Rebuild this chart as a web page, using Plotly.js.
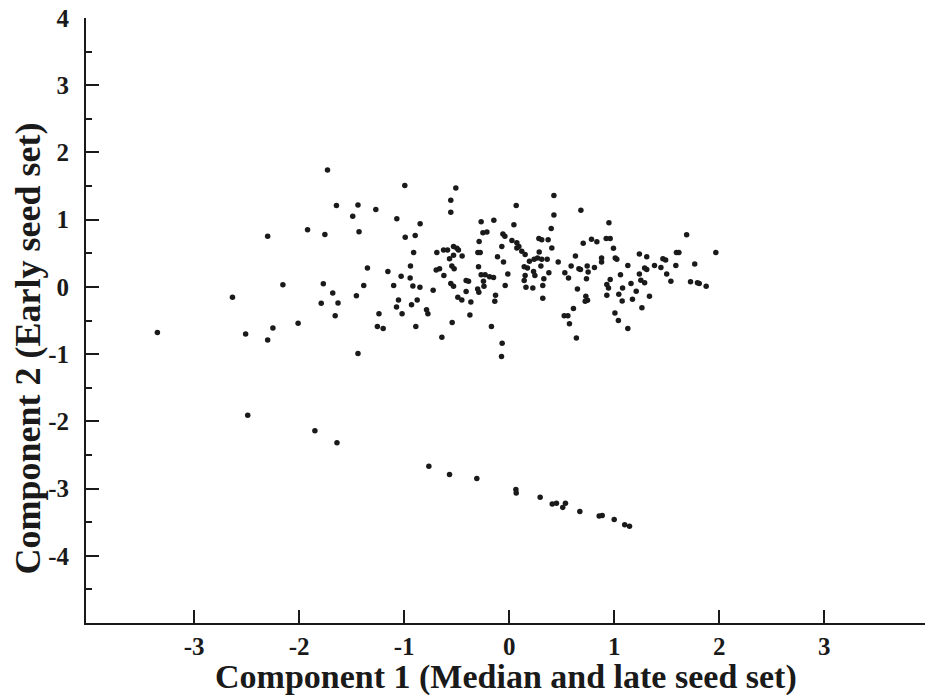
<!DOCTYPE html>
<html>
<head>
<meta charset="utf-8">
<script src="https://cdn.plot.ly/plotly-3.0.1.min.js"></script>
<style>html,body{margin:0;padding:0;background:#fff;}#chart{width:925px;height:697px;}</style>
</head>
<body>
<div id="chart"></div>
<script>
// Main cluster of genotypes: Component 1 (x) and Component 2 (y) scores
const clusterX = [-1.73,-1.645,-1.44,-1.27,-1.49,-2.30,-1.92,-1.755,-1.43,-1.35,-2.155,-1.77,-1.385,-2.635,-1.68,-1.455,-1.79,-1.63,-1.657,-1.24,-2.01,-2.25,-1.255,-1.20,-3.35,-2.51,-2.30,-1.44,-1.10,-0.917,-0.85,-1.054,-1.073,-0.93,-0.876,-1.02,-0.889,-0.787,-0.774,-0.994,-0.508,-0.556,-0.556,-1.07,-0.848,-0.99,-0.895,-0.91,-0.689,-0.625,-0.587,-0.53,-0.498,-0.483,-0.53,-0.568,-0.448,-0.267,-0.146,0.067,0.045,-0.25,-0.212,-0.286,-0.298,-0.276,-0.06,-0.041,-0.07,0.026,0.073,0.073,-0.111,-0.054,-0.94,-1.155,-1.029,-0.943,-0.724,-0.641,-0.543,-0.663,-0.695,-0.622,-0.546,-0.524,-0.556,-0.53,-0.41,-0.387,-0.41,-0.489,-0.451,-0.365,-0.374,-0.292,-0.267,-0.229,-0.187,-0.149,-0.245,-0.30,-0.289,-0.24,-0.13,-0.137,-0.169,-0.067,-0.073,-0.013,-0.038,0.092,0.12,0.152,0.143,0.174,0.152,0.143,0.16,0.225,0.193,0.238,0.27,0.31,0.232,0.245,0.286,0.283,0.31,0.371,0.302,0.33,0.32,0.32,0.378,0.362,0.426,0.426,0.40,0.406,0.467,0.53,0.565,0.524,0.559,0.574,0.64,0.612,0.631,0.59,0.664,0.679,0.65,0.683,0.705,0.784,0.835,0.743,0.752,0.736,0.812,0.88,0.88,0.73,0.746,0.724,0.95,0.924,0.962,0.993,1.01,1.025,0.962,0.93,0.946,0.93,1.007,1.04,1.044,1.06,1.13,1.24,1.31,1.29,1.31,1.384,1.445,1.464,1.49,1.593,1.616,1.587,1.69,1.767,1.968,1.50,1.54,1.727,1.793,1.81,1.876,1.08,1.16,1.24,1.254,1.29,1.21,1.076,1.174,1.336,1.264,1.13];
const clusterY = [1.74,1.21,1.22,1.15,1.05,0.755,0.85,0.78,0.82,0.28,0.03,0.045,0.02,-0.155,-0.09,-0.13,-0.245,-0.24,-0.43,-0.40,-0.54,-0.61,-0.59,-0.62,-0.68,-0.70,-0.79,-0.99,0.02,0.015,-0.005,-0.195,-0.30,-0.265,-0.195,-0.40,-0.59,-0.34,-0.40,1.51,1.47,1.29,1.11,1.015,0.94,0.74,0.765,0.51,0.51,0.55,0.55,0.60,0.576,0.55,0.47,0.42,0.46,0.97,0.99,1.21,0.925,0.805,0.815,0.676,0.51,0.51,0.785,0.755,0.60,0.69,0.657,0.58,0.45,0.37,0.31,0.23,0.16,0.134,-0.05,-0.75,-0.53,0.27,0.25,0.17,0.31,0.27,0.05,0.01,0.094,0.084,-0.07,-0.155,-0.195,-0.225,-0.42,0.30,0.18,0.18,0.15,0.14,0.084,-0.03,-0.08,0.01,-0.125,-0.215,-0.59,-0.84,-1.035,0.19,0.02,0.60,0.53,0.48,0.30,0.28,0.17,0.094,-0.005,-0.015,0.38,0.41,0.43,0.41,0.23,0.17,0.52,0.72,0.70,0.70,0.31,0.12,0.02,-0.17,0.21,0.41,1.36,1.07,0.87,0.58,0.37,0.21,0.134,-0.43,-0.43,-0.55,-0.76,-0.32,0.46,0.31,0.27,0.26,-0.03,1.14,0.65,0.71,0.67,0.31,0.22,0.12,0.29,0.43,0.37,-0.14,-0.20,-0.215,0.955,0.72,0.72,0.576,0.43,0.41,0.11,0.034,-0.015,-0.125,-0.39,-0.50,-0.11,0.18,0.32,0.49,0.45,0.28,0.26,0.32,0.29,0.42,0.40,0.51,0.51,0.32,0.775,0.34,0.51,0.19,0.084,0.075,0.06,0.05,0.01,-0.015,0.05,0.19,0.10,0.06,-0.065,-0.21,-0.185,-0.14,-0.31,-0.62];

// Diagonal group of outlying genotypes
const lineX = [-2.49,-1.85,-1.64,-0.765,-0.568,-0.308,0.064,0.067,0.295,0.41,0.45,0.51,0.536,0.673,0.857,0.886,1.0,1.10,1.146];
const lineY = [-1.91,-2.14,-2.32,-2.67,-2.79,-2.85,-3.015,-3.065,-3.13,-3.23,-3.22,-3.28,-3.22,-3.34,-3.41,-3.40,-3.46,-3.54,-3.56];

// Tick values and labels
const xTickVals = [-3,-2,-1,0,1,2,3];
const xTickLabels = ['-3','-2','-1','0','1','2','3'];
const yTickVals = [-4,-3,-2,-1,0,1,2,3,4];
const yTickLabels = ['-4','-3','-2','-1','0','1','2','3','4'];

const xTitle = 'Component 1 (Median and late seed set)';
const yTitle = 'Component 2 (Early seed set)';

const serif = 'Liberation Serif, Times New Roman, serif';
const ink = '#1a1a1a';
const marker = {color: ink, size: 5.5, symbol: 'circle', line: {width: 0}};
const bold = s => '<b>' + s + '</b>';

const traces = [
  {x: clusterX, y: clusterY, type: 'scatter', mode: 'markers', marker: marker, hoverinfo: 'x+y'},
  {x: lineX, y: lineY, type: 'scatter', mode: 'markers', marker: marker, hoverinfo: 'x+y'}
];

const layout = {
  width: 925, height: 697,
  margin: {l: 86, r: 0, t: 18, b: 74, pad: 0},
  paper_bgcolor: '#ffffff', plot_bgcolor: '#ffffff',
  showlegend: false,
  xaxis: {
    range: [-4.03, 3.96], showgrid: false, zeroline: false,
    showline: true, linecolor: ink, linewidth: 2,
    tickmode: 'array', tickvals: xTickVals, ticktext: xTickLabels.map(bold),
    ticks: 'inside', ticklen: 13, tickwidth: 2, tickcolor: ink,
    ticklabelstandoff: 0,
    tickfont: {family: serif, size: 25, color: ink}
  },
  yaxis: {
    range: [-5, 4], showgrid: false, zeroline: false,
    showline: true, linecolor: ink, linewidth: 2,
    tickmode: 'array', tickvals: yTickVals, ticktext: yTickLabels.map(bold),
    ticks: 'inside', ticklen: 13, tickwidth: 2, tickcolor: ink,
    ticklabelstandoff: 10,
    minor: {dtick: 0.5, tick0: 0, ticks: 'inside', ticklen: 6, tickwidth: 2, tickcolor: ink, showgrid: false},
    tickfont: {family: serif, size: 25, color: ink}
  },
  annotations: [
    {text: bold(xTitle), xref: 'paper', yref: 'paper', x: 0.5, y: -0.09, xanchor: 'center', yanchor: 'middle',
     showarrow: false, font: {family: serif, size: 34, color: ink}},
    {text: bold(yTitle), xref: 'paper', yref: 'paper', x: -0.069, y: 0.454, xanchor: 'center', yanchor: 'middle',
     textangle: -90, showarrow: false, font: {family: serif, size: 36, color: ink}}
  ]
};

Plotly.newPlot('chart', traces, layout, {displayModeBar: false, staticPlot: true});
</script>
</body>
</html>
